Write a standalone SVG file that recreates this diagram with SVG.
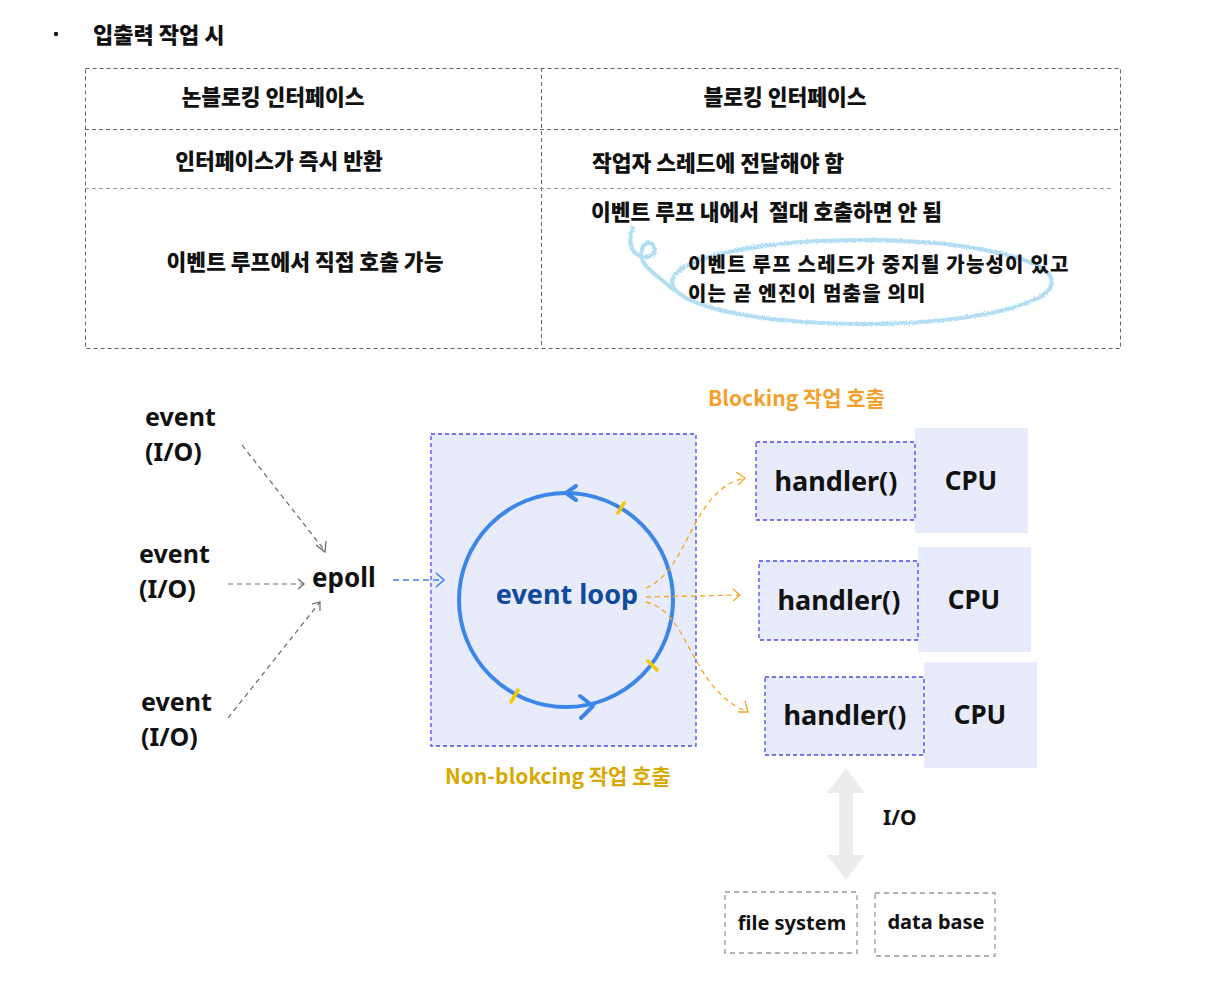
<svg xmlns="http://www.w3.org/2000/svg" width="1220" height="999" viewBox="0 0 1220 999">
<defs>
<style>
.kr{font-family:"Noto Sans CJK KR","Noto Sans",sans-serif;font-weight:900;fill:#111;}
.hw{font-family:"Noto Sans","Noto Sans CJK KR",sans-serif;font-weight:700;fill:#111;}
.tbl{fill:none;stroke:#666;stroke-width:1;stroke-dasharray:4 3;}
.blue{fill:#e8ebfc;stroke:#4a4af0;stroke-width:1.3;stroke-dasharray:4 3;}
.cpu{fill:#e8ebfc;}
.gray{fill:none;stroke:#666;stroke-width:1.2;stroke-dasharray:5 4;}
.org{fill:none;stroke:#f5a623;stroke-width:1.3;stroke-dasharray:5 4;}
.fs{fill:#fff;stroke:#999;stroke-width:1.3;stroke-dasharray:5 4;}
</style>
<filter id="crayon" x="-10%" y="-30%" width="120%" height="160%">
<feTurbulence type="fractalNoise" baseFrequency="0.9" numOctaves="2" result="n"/>
<feDisplacementMap in="SourceGraphic" in2="n" scale="4"/>
</filter>
</defs>
<rect width="1220" height="999" fill="#fff"/>

<g id="title">
<circle cx="56" cy="34" r="2.2" fill="#111"/>
<text class="kr" x="93" y="43" font-size="22">입출력 작업 시</text>
</g>

<g id="table">
<rect class="tbl" x="85.5" y="68.5" width="1035" height="280"/>
<line class="tbl" x1="541.5" y1="68" x2="541.5" y2="348"/>
<line class="tbl" x1="85" y1="129.5" x2="1120" y2="129.5"/>
<line class="tbl" x1="85" y1="188.5" x2="1112" y2="188.5" style="stroke:#999"/>
<text class="kr" x="273" y="105" font-size="21.5" text-anchor="middle">논블로킹 인터페이스</text>
<text class="kr" x="785" y="105" font-size="21.5" text-anchor="middle">블로킹 인터페이스</text>
<text class="kr" x="279" y="169" font-size="21.5" text-anchor="middle">인터페이스가 즉시 반환</text>
<text class="kr" x="592" y="171" font-size="21.5">작업자 스레드에 전달해야 함</text>
<text class="kr" x="591" y="220" font-size="21.5" xml:space="preserve">이벤트 루프 내에서  절대 호출하면 안 됨</text>
<text class="kr" x="305" y="270" font-size="21.5" text-anchor="middle">이벤트 루프에서 직접 호출 가능</text>
</g>

<g id="annotation">
<g filter="url(#crayon)" fill="none" stroke="#a9dbf2" stroke-width="4" stroke-linecap="round" opacity="0.9">
<ellipse cx="862" cy="282" rx="190" ry="42"/>
<path d="M 633 228 C 628 240, 630 252, 640 256 C 652 260, 660 250, 652 244 C 642 238, 636 258, 648 268 C 655 275, 665 282, 674 290"/>
</g>
<text class="kr" x="688" y="272" font-size="20" letter-spacing="1.2">이벤트 루프 스레드가 중지될 가능성이 있고</text>
<text class="kr" x="688" y="301" font-size="20" letter-spacing="1.2">이는 곧 엔진이 멈춤을 의미</text>
</g>

<g id="event1">
<text class="hw" x="145" y="426" font-size="25">event</text>
<text class="hw" x="145" y="461" font-size="25">(I/O)</text>
</g>
<g id="event2">
<text class="hw" x="139" y="563" font-size="25">event</text>
<text class="hw" x="139" y="598" font-size="25">(I/O)</text>
</g>
<g id="event3">
<text class="hw" x="141" y="711" font-size="25">event</text>
<text class="hw" x="141" y="746" font-size="25">(I/O)</text>
</g>
<g id="epoll">
<text class="hw" x="312" y="587" font-size="26">epoll</text>
</g>

<g id="eventloop">
<rect class="blue" x="431" y="434" width="265" height="312"/>
<circle cx="566" cy="600" r="107" fill="none" stroke="#3b86e8" stroke-width="4"/>
<path d="M 576 486 L 566 493 L 576 500" fill="none" stroke="#3b86e8" stroke-width="4" stroke-linecap="round" stroke-linejoin="round"/>
<path d="M 580 696 L 593 706 L 581 718" fill="none" stroke="#3b86e8" stroke-width="4" stroke-linecap="round" stroke-linejoin="round"/>
<g stroke="#f5c800" stroke-width="3.5" stroke-linecap="round">
<line x1="618" y1="513" x2="624" y2="503"/>
<line x1="648" y1="661" x2="657" y2="670"/>
<line x1="511" y1="702" x2="518" y2="690"/>
</g>
<text class="hw" x="567" y="604" font-size="27" text-anchor="middle" style="fill:#0f4a9c">event loop</text>
<text class="kr" x="445" y="784" font-size="21" style="fill:#d6a800;font-weight:700">Non-blokcing 작업 호출</text>
</g>

<g id="blocking-label">
<text class="kr" x="708" y="406" font-size="21" style="fill:#f5a02a;font-weight:700">Blocking 작업 호출</text>
</g>

<g id="handler1">
<rect class="cpu" x="915" y="428" width="113" height="105"/>
<rect class="blue" x="756" y="442" width="159" height="78"/>
<text class="hw" x="836" y="491" font-size="27" text-anchor="middle">handler()</text>
<text class="hw" x="971" y="490" font-size="26" text-anchor="middle">CPU</text>
</g>
<g id="handler2">
<rect class="cpu" x="918" y="547" width="113" height="105"/>
<rect class="blue" x="759" y="561" width="159" height="79"/>
<text class="hw" x="839" y="610" font-size="27" text-anchor="middle">handler()</text>
<text class="hw" x="974" y="609" font-size="26" text-anchor="middle">CPU</text>
</g>
<g id="handler3">
<rect class="cpu" x="924" y="662" width="113" height="106"/>
<rect class="blue" x="765" y="677" width="159" height="78"/>
<text class="hw" x="845" y="725" font-size="27" text-anchor="middle">handler()</text>
<text class="hw" x="980" y="724" font-size="26" text-anchor="middle">CPU</text>
</g>

<g id="io-arrow">
<path d="M 846 768 L 865 793 L 853 793 L 853 855 L 865 855 L 846 880 L 827 855 L 839 855 L 839 793 L 827 793 Z" fill="#ececec"/>
<text class="hw" x="883" y="825" font-size="21">I/O</text>
</g>

<g id="filesystem">
<rect class="fs" x="725" y="892" width="132" height="61"/>
<text class="hw" x="792" y="930" font-size="20" text-anchor="middle">file system</text>
</g>
<g id="database">
<rect class="fs" x="875" y="893" width="120" height="63"/>
<text class="hw" x="936" y="929" font-size="20" text-anchor="middle">data base</text>
</g>

<g id="connectors">
<path class="gray" d="M 242 445 L 325 551"/>
<path class="gray" d="M 316 545 L 325 552 L 326 541" style="stroke-dasharray:none"/>
<path class="gray" d="M 228 584 L 304 584"/>
<path class="gray" d="M 298 579 L 304 584 L 298 589" style="stroke-dasharray:none"/>
<path class="gray" d="M 228 718 L 320 602"/>
<path class="gray" d="M 312 604 L 320 602 L 320 611" style="stroke-dasharray:none"/>
<path d="M 393 580 L 443 580" fill="none" stroke="#3b86e8" stroke-width="1.5" stroke-dasharray="6 4"/>
<path d="M 436 573 L 444 580 L 436 587" fill="none" stroke="#3b86e8" stroke-width="1.5"/>
<path class="org" d="M 646 588 C 690 570, 690 490, 745 478"/>
<path class="org" d="M 736 472 L 745 478 L 738 485" style="stroke-dasharray:none"/>
<path class="org" d="M 646 597 L 740 595"/>
<path class="org" d="M 733 589 L 740 595 L 733 601" style="stroke-dasharray:none"/>
<path class="org" d="M 646 602 C 690 612, 690 690, 748 712"/>
<path class="org" d="M 745 701 L 748 712 L 738 712" style="stroke-dasharray:none"/>
</g>
</svg>
